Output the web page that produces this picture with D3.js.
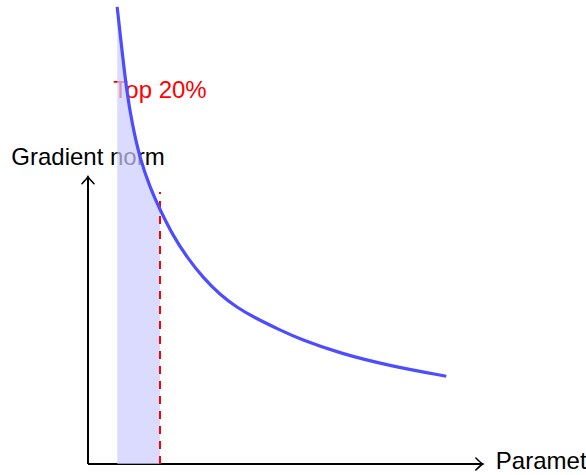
<!DOCTYPE html>
<html>
<head>
<meta charset="utf-8">
<script src="https://cdn.jsdelivr.net/npm/d3@7"></script>
<style>
  body { margin: 0; background: #fff; }
  svg { display: block; overflow: hidden; }
  text { font-family: "Liberation Sans", Arial, sans-serif; }
</style>
</head>
<body>
<div id="chart"></div>
<script>
// points (parameter rank, norm)
const curveX = [0.51, 0.61, 0.68, 0.77, 0.91, 1.09, 1.26, 1.49, 1.73, 2.02, 2.31, 2.60, 2.89, 3.36, 3.71, 4.41, 5.29, 6.27];
const curveY = [8.02, 7.12, 6.53, 5.98, 5.35, 4.84, 4.46, 4.00, 3.63, 3.26, 2.97, 2.75, 2.58, 2.35, 2.19, 1.94, 1.72, 1.54];
const cutoff = 1.26;        // end of the top 20% of parameters
const cutoffTop = 4.77;     // where the dashed marker stops
const labels = {y: "Gradient norm", x: "Parameters", top: "Top 20%"};

const W = 586, H = 475;
const points = curveX.map((x, i) => ({x: x, y: curveY[i]}));

const svg = d3.select("#chart").append("svg")
    .attr("width", W)
    .attr("height", H);

const x = d3.scaleLinear().domain([0, 7]).range([88, 488]);
const y = d3.scaleLinear().domain([0, 8]).range([464, 8]);

const xEnd = 6.91, yEnd = 5.04;

// texts first, the shading sits over them
svg.append("text")
    .attr("x", x(0))
    .attr("y", 165)
    .attr("text-anchor", "middle")
    .style("font-size", "24px")
    .attr("fill", "#000")
    .text(labels.y);

svg.append("text")
    .attr("x", x(xEnd) + 13)
    .attr("y", y(0) + 5)
    .style("font-size", "24px")
    .attr("fill", "#000")
    .text(labels.x);

svg.append("text")
    .attr("x", x(cutoff))
    .attr("y", 98)
    .attr("text-anchor", "middle")
    .style("font-size", "24px")
    .attr("fill", "red")
    .text(labels.top);

// axes with open arrow heads
const axes = svg.append("g")
    .attr("stroke", "#000")
    .attr("stroke-width", 2)
    .attr("fill", "none");

axes.append("line")
    .attr("x1", x(0)).attr("y1", y(0))
    .attr("x2", x(xEnd)).attr("y2", y(0));
axes.append("line")
    .attr("x1", x(0)).attr("y1", y(0))
    .attr("x2", x(0)).attr("y2", y(yEnd));

function arrowHead(tx, ty, angle) {
    axes.append("path")
        .attr("stroke-width", 1.6)
        .attr("stroke-linecap", "round")
        .attr("d", "M-7,-6 Q-2,-1 0,0 Q-2,1 -7,6")
        .attr("transform", `translate(${tx},${ty}) rotate(${angle})`);
}
arrowHead(x(xEnd), y(0), 0);
arrowHead(x(0), y(yEnd), -90);

// shaded area under the curve up to the cutoff
svg.append("clipPath")
    .attr("id", "topClip")
    .append("rect")
    .attr("x", x(curveX[0]))
    .attr("y", 0)
    .attr("width", x(cutoff) - x(curveX[0]))
    .attr("height", H);

const area = d3.area()
    .x(d => x(d.x))
    .y0(y(0))
    .y1(d => y(d.y))
    .curve(d3.curveBasis);

svg.append("path")
    .datum(points)
    .attr("clip-path", "url(#topClip)")
    .attr("fill", "rgb(204,204,255)")
    .attr("fill-opacity", 0.7)
    .attr("d", area);

// dashed cutoff marker, drawn from the bottom up
svg.append("line")
    .attr("x1", x(cutoff)).attr("y1", y(0))
    .attr("x2", x(cutoff)).attr("y2", y(cutoffTop))
    .attr("stroke", "red")
    .attr("stroke-width", 2)
    .attr("stroke-dasharray", "8,7");

const line = d3.line()
    .x(d => x(d.x))
    .y(d => y(d.y))
    .curve(d3.curveBasis);

svg.append("path")
    .datum(points)
    .attr("fill", "none")
    .attr("stroke", "rgb(77,77,255)")
    .attr("stroke-width", 3.2)
    .attr("d", line);
</script>
</body>
</html>
